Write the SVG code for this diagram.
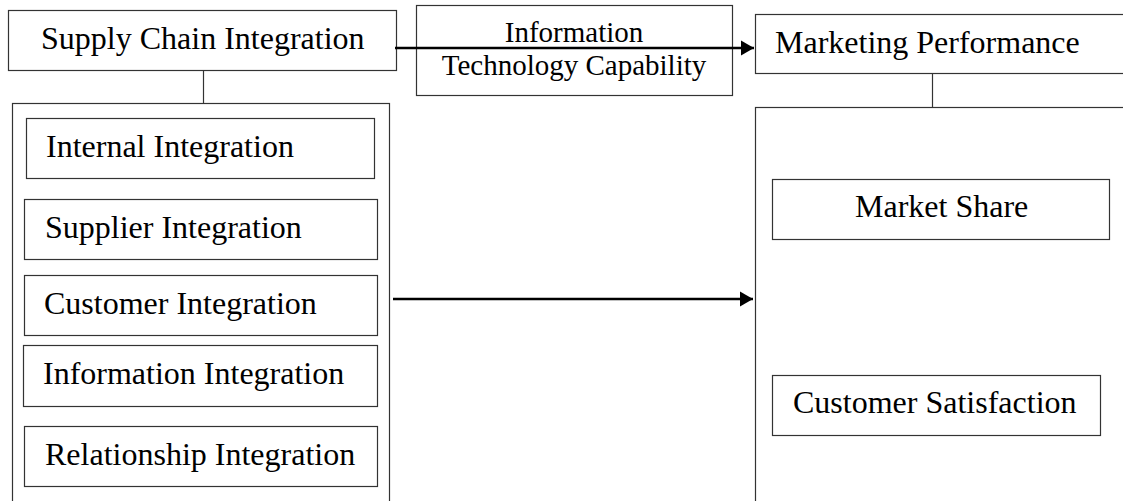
<svg xmlns="http://www.w3.org/2000/svg" width="1123" height="501" viewBox="0 0 1123 501">
  <style>
    .box { fill: #ffffff; stroke: #333333; stroke-width: 1.2; }
    .lbl { font-family: "Liberation Serif", "Times New Roman", serif; font-size: 32px; fill: #000000; }
    .lbl-sm { font-family: "Liberation Serif", "Times New Roman", serif; font-size: 29px; fill: #000000; }
    .link { stroke: #333333; stroke-width: 1.2; fill: none; }
    .arrow { stroke: #000000; stroke-width: 2.6; fill: none; marker-end: url(#head); }
  </style>
  <defs>
    <marker id="head" viewBox="0 0 13 15" refX="13" refY="7.5" markerWidth="5" markerHeight="5.77" markerUnits="strokeWidth" orient="auto">
      <path d="M0,0 L13,7.5 L0,15 z" fill="#000000"/>
    </marker>
  </defs>
  <rect width="1123" height="501" fill="#ffffff"/>

  <!-- Left side: supply chain integration and its dimensions -->
  <g id="sci">
    <rect class="box" x="8.5" y="10.5" width="388" height="60"/>
    <text class="lbl" x="41" y="49">Supply Chain Integration</text>
  </g>
  <g id="sci-group">
    <rect class="box" x="12.5" y="103.5" width="377" height="420"/>
  </g>
  <g id="internal">
    <rect class="box" x="26.5" y="118.5" width="348" height="60"/>
    <text class="lbl" x="46" y="157">Internal Integration</text>
  </g>
  <g id="supplier">
    <rect class="box" x="24.5" y="199.5" width="353" height="60"/>
    <text class="lbl" x="45" y="238">Supplier Integration</text>
  </g>
  <g id="customer">
    <rect class="box" x="24.5" y="275.5" width="353" height="60"/>
    <text class="lbl" x="44" y="314">Customer Integration</text>
  </g>
  <g id="information">
    <rect class="box" x="23.5" y="345.5" width="354" height="61"/>
    <text class="lbl" x="43" y="384">Information Integration</text>
  </g>
  <g id="relationship">
    <rect class="box" x="24.5" y="426.5" width="353" height="60"/>
    <text class="lbl" x="45" y="465">Relationship Integration</text>
  </g>

  <!-- Moderator -->
  <g id="itc">
    <rect class="box" x="416.5" y="5.5" width="316" height="90"/>
    <text class="lbl-sm" x="574" y="42" text-anchor="middle">Information</text>
    <text class="lbl-sm" x="574" y="75" text-anchor="middle">Technology Capability</text>
  </g>

  <!-- Right side: marketing performance and its dimensions -->
  <g id="mp">
    <rect class="box" x="755.5" y="14.5" width="380" height="59"/>
    <text class="lbl" x="775" y="53">Marketing Performance</text>
  </g>
  <g id="mp-group">
    <rect class="box" x="755.5" y="107.5" width="380" height="420"/>
  </g>
  <g id="market-share">
    <rect class="box" x="772.5" y="179.5" width="337" height="60"/>
    <text class="lbl" x="855" y="217">Market Share</text>
  </g>
  <g id="satisfaction">
    <rect class="box" x="772.5" y="375.5" width="328" height="60"/>
    <text class="lbl" x="793" y="413">Customer Satisfaction</text>
  </g>

  <!-- Connectors -->
  <g id="connectors">
    <line class="link" x1="203.5" y1="70.5" x2="203.5" y2="103.5"/>
    <line class="link" x1="932.5" y1="73.5" x2="932.5" y2="107.5"/>
    <line class="arrow" x1="395" y1="48" x2="754" y2="48"/>
    <line class="arrow" x1="393" y1="299" x2="753" y2="299"/>
  </g>
</svg>
